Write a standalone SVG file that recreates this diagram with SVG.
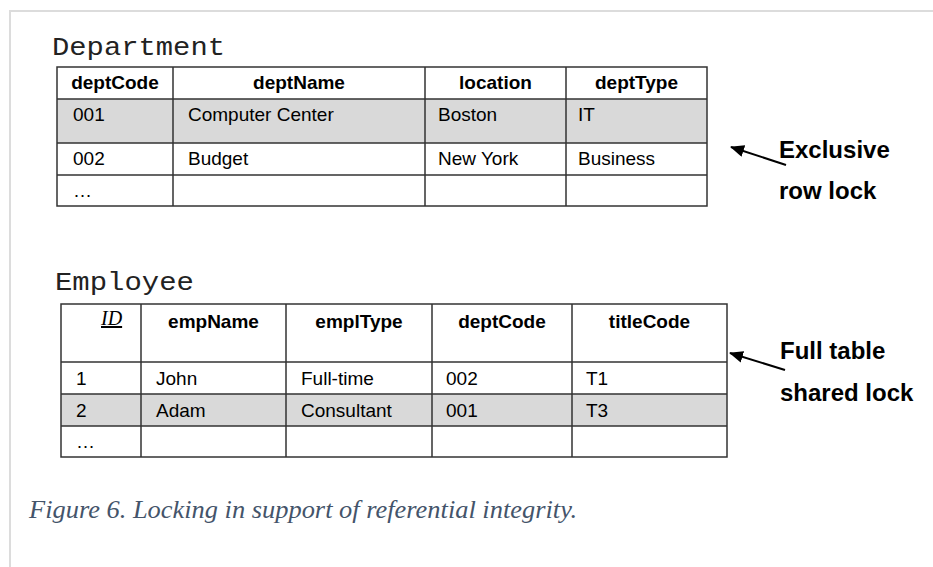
<svg xmlns="http://www.w3.org/2000/svg" width="933" height="567" viewBox="0 0 933 567">
<defs>
<marker id="ah" viewBox="0 0 14 12" refX="13" refY="6" markerWidth="14" markerHeight="12" markerUnits="userSpaceOnUse" orient="auto">
<path d="M0,0 L14,6 L0,12 z" fill="#000"/>
</marker>
<style>
.frame{fill:none;stroke:#dcdcdc;stroke-width:2}
.grid{fill:none;stroke:#333;stroke-width:1.5}
.shade{fill:#d9d9d9}
.h{font-family:"Liberation Sans",Arial,sans-serif;font-weight:bold;font-size:19px;fill:#000;text-anchor:middle}
.c{font-family:"Liberation Sans",Arial,sans-serif;font-size:19px;fill:#000}
.title{font-family:"Liberation Mono","Courier New",monospace;font-size:26px;fill:#222}
.lbl{font-family:"Liberation Sans",Arial,sans-serif;font-weight:bold;font-size:24px;fill:#000}
.cap{font-family:"Liberation Serif","Times New Roman",serif;font-style:italic;font-size:26px;fill:#44546a}
.conn{stroke:#000;stroke-width:2;fill:none}
</style>
</defs>
<rect width="933" height="567" fill="#fff"/>
<path class="frame" d="M10,567 V11 H933"/>

<g id="department">
<text class="title" x="52" y="55" textLength="173" lengthAdjust="spacingAndGlyphs">Department</text>
<rect class="shade" x="57" y="99" width="650" height="44"/>
<rect class="grid" x="57" y="67" width="650" height="139"/>
<path class="grid" d="M57,99 H707 M57,143 H707 M57,175 H707 M173,67 V206 M425,67 V206 M566,67 V206"/>
<text class="h" x="115" y="89">deptCode</text>
<text class="h" x="299" y="89">deptName</text>
<text class="h" x="495.5" y="89">location</text>
<text class="h" x="636.5" y="89">deptType</text>
<text class="c" x="73" y="121">001</text>
<text class="c" x="188" y="121">Computer Center</text>
<text class="c" x="438" y="121">Boston</text>
<text class="c" x="578" y="121">IT</text>
<text class="c" x="73" y="165">002</text>
<text class="c" x="188" y="165">Budget</text>
<text class="c" x="438" y="165">New York</text>
<text class="c" x="578" y="165">Business</text>
<text class="c" x="73" y="197">…</text>
</g>

<g id="employee">
<text class="title" x="55" y="290" textLength="139" lengthAdjust="spacingAndGlyphs">Employee</text>
<rect class="shade" x="61" y="394" width="666" height="32"/>
<rect class="grid" x="61" y="304" width="666" height="153"/>
<path class="grid" d="M61,362 H727 M61,394 H727 M61,426 H727 M141,304 V457 M286,304 V457 M432,304 V457 M572,304 V457"/>
<text x="101" y="325" font-family="'Liberation Serif','Times New Roman',serif" font-style="italic" font-size="20" text-decoration="underline" fill="#000">ID</text>
<text class="h" x="213.5" y="328">empName</text>
<text class="h" x="359" y="328">emplType</text>
<text class="h" x="502" y="328">deptCode</text>
<text class="h" x="649.5" y="328">titleCode</text>
<text class="c" x="76" y="385">1</text>
<text class="c" x="156" y="385">John</text>
<text class="c" x="301" y="385">Full-time</text>
<text class="c" x="446" y="385">002</text>
<text class="c" x="586" y="385">T1</text>
<text class="c" x="76" y="417">2</text>
<text class="c" x="156" y="417">Adam</text>
<text class="c" x="301" y="417">Consultant</text>
<text class="c" x="446" y="417">001</text>
<text class="c" x="586" y="417">T3</text>
<text class="c" x="76" y="448">…</text>
</g>

<g id="label-exclusive">
<text class="lbl" x="779" y="158">Exclusive</text>
<text class="lbl" x="779" y="199">row lock</text>
</g>
<g id="label-shared">
<text class="lbl" x="780" y="359">Full table</text>
<text class="lbl" x="780" y="401">shared lock</text>
</g>

<g id="connectors">
<line class="conn" x1="786" y1="165" x2="731" y2="147" marker-end="url(#ah)"/>
<line class="conn" x1="785" y1="370" x2="730" y2="353" marker-end="url(#ah)"/>
</g>

<text id="caption" class="cap" x="29" y="518" textLength="548" lengthAdjust="spacingAndGlyphs">Figure 6. Locking in support of referential integrity.</text>
</svg>
